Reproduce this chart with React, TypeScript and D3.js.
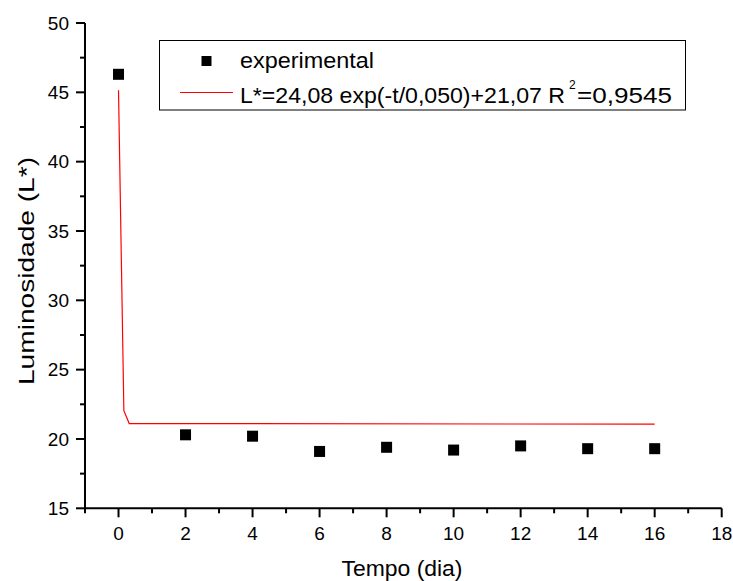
import React, { useEffect, useRef } from "react";
import * as d3 from "d3";

// measured days and luminosity
const dias = [0, 2, 4, 6, 8, 10, 12, 14, 16];
const luminosidade = [46.3, 20.3, 20.2, 19.1, 19.4, 19.2, 19.5, 19.3, 19.3];

// vertices of the fitted curve as drawn
const ajusteT = [0, 0.16, 0.32, 16];
const ajusteL = [45.15, 22.04, 21.11, 21.07];

const xTicks = [0, 2, 4, 6, 8, 10, 12, 14, 16, 18];
const yTicks = [15, 20, 25, 30, 35, 40, 45, 50];

const legendaExp = "experimental";
const legendaAjuste = "L*=24,08 exp(-t/0,050)+21,07 R";
const legendaR2 = "=0,9545";

const W = 733;
const H = 581;
const FONT = "'Liberation Sans', Arial, sans-serif";

const App = () => {
    const ref = useRef<SVGSVGElement | null>(null);

    useEffect(() => {
        const svg = d3.select(ref.current);
        svg.selectAll("*").remove();

        const x = d3.scaleLinear().domain([-1, 18]).range([85, 721.7]);
        const y = d3.scaleLinear().domain([15, 50]).range([508.3, 23]);

        // y axis
        const yAxis = svg.append("g").attr("transform", `translate(${x(-1)},0)`);
        yAxis.append("line")
            .attr("y1", y(15)).attr("y2", y(50))
            .attr("stroke", "black").attr("stroke-width", 2);
        d3.range(15, 50.01, 2.5).forEach((v) => {
            const major = v % 5 === 0;
            yAxis.append("line")
                .attr("x1", 0).attr("x2", major ? -9 : -5)
                .attr("y1", y(v)).attr("y2", y(v))
                .attr("stroke", "black").attr("stroke-width", 2);
        });
        yAxis.selectAll("text.tick")
            .data(yTicks)
            .enter()
            .append("text")
            .attr("x", -16)
            .attr("y", (d) => y(d))
            .attr("dy", "0.36em")
            .attr("text-anchor", "end")
            .style("font-family", FONT)
            .style("font-size", "19px")
            .text((d) => d);

        // x axis
        const xAxis = svg.append("g").attr("transform", `translate(0,${y(15)})`);
        xAxis.append("line")
            .attr("x1", x(-1)).attr("x2", x(18))
            .attr("stroke", "black").attr("stroke-width", 2);
        d3.range(-1, 18.01, 1).forEach((v) => {
            const major = v % 2 === 0;
            xAxis.append("line")
                .attr("x1", x(v)).attr("x2", x(v))
                .attr("y1", 0).attr("y2", major ? 9 : 5)
                .attr("stroke", "black").attr("stroke-width", 2);
        });
        xAxis.selectAll("text.tick")
            .data(xTicks)
            .enter()
            .append("text")
            .attr("x", (d) => x(d))
            .attr("y", 32)
            .attr("text-anchor", "middle")
            .style("font-family", FONT)
            .style("font-size", "19px")
            .text((d) => d);

        // axis titles
        svg.append("text")
            .attr("x", 341.5).attr("y", 576)
            .attr("textLength", 121).attr("lengthAdjust", "spacingAndGlyphs")
            .style("font-family", FONT).style("font-size", "22px")
            .text("Tempo (dia)");
        svg.append("text")
            .attr("transform", "translate(34,385) rotate(-90)")
            .attr("textLength", 228).attr("lengthAdjust", "spacingAndGlyphs")
            .style("font-family", FONT).style("font-size", "22px")
            .text("Luminosidade (L*)");

        // fitted curve
        const line = d3.line<number>()
            .x((d, i) => x(ajusteT[i]))
            .y((d) => y(d));
        svg.append("path")
            .datum(ajusteL)
            .attr("d", line)
            .attr("fill", "none")
            .attr("stroke", "#ff0000")
            .attr("stroke-width", 1.2);

        // experimental points
        const s = 11;
        svg.selectAll("rect.pt")
            .data(dias)
            .enter()
            .append("rect")
            .attr("x", (d) => x(d) - s / 2)
            .attr("y", (d, i) => y(luminosidade[i]) - s / 2)
            .attr("width", s).attr("height", s)
            .attr("fill", "black");

        // legend
        const leg = svg.append("g");
        leg.append("rect")
            .attr("x", 159.5).attr("y", 40.5)
            .attr("width", 526).attr("height", 69.5)
            .attr("fill", "white").attr("stroke", "black").attr("stroke-width", 1);
        leg.append("rect")
            .attr("x", 201.5).attr("y", 56).attr("width", 10).attr("height", 10)
            .attr("fill", "black");
        leg.append("text")
            .attr("x", 240).attr("y", 68)
            .attr("textLength", 134).attr("lengthAdjust", "spacingAndGlyphs")
            .style("font-family", FONT).style("font-size", "22.5px")
            .text(legendaExp);
        leg.append("line")
            .attr("x1", 180).attr("x2", 233).attr("y1", 92.5).attr("y2", 92.5)
            .attr("stroke", "#ff0000").attr("stroke-width", 1.2);
        leg.append("text")
            .attr("x", 240).attr("y", 102.5)
            .attr("textLength", 325).attr("lengthAdjust", "spacingAndGlyphs")
            .style("font-family", FONT).style("font-size", "22.5px")
            .text(legendaAjuste);
        leg.append("text")
            .attr("x", 569).attr("y", 89)
            .style("font-family", FONT).style("font-size", "12px")
            .text("2");
        leg.append("text")
            .attr("x", 577).attr("y", 102.5)
            .attr("textLength", 95).attr("lengthAdjust", "spacingAndGlyphs")
            .style("font-family", FONT).style("font-size", "22.5px")
            .text(legendaR2);
    }, []);

    return <svg ref={ref} width={W} height={H} style={{ position: "absolute", left: 0, top: 0 }} />;
};

export default App;
